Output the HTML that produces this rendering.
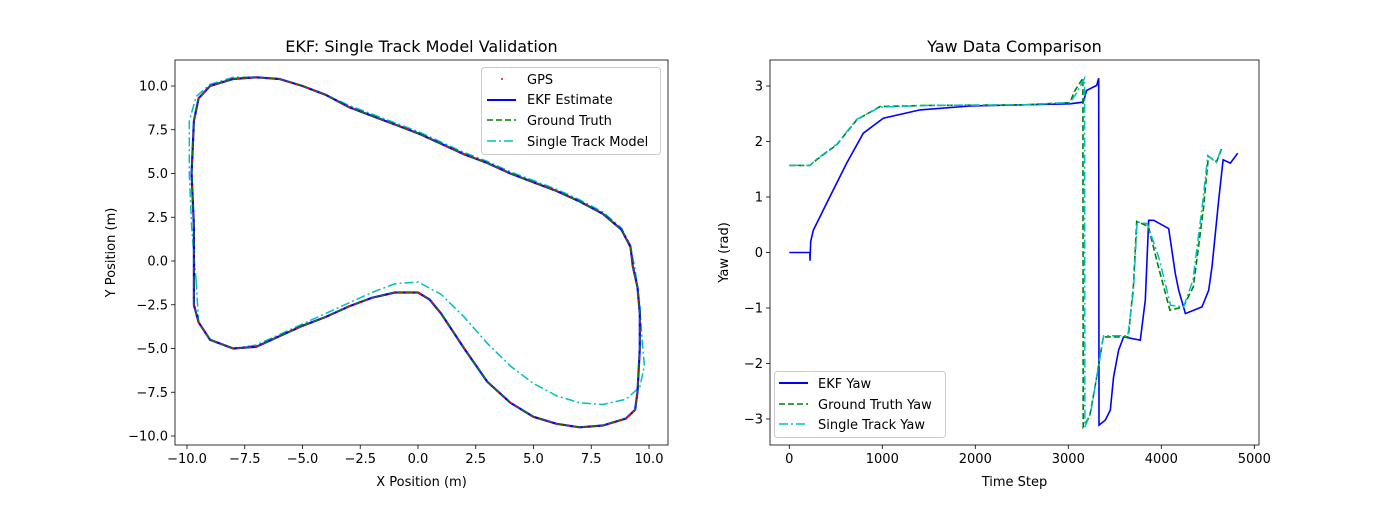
<!DOCTYPE html>
<html><head><meta charset="utf-8"><style>
body{margin:0;background:#fff;font-family:"Liberation Sans","DejaVu Sans",sans-serif}
svg text{font-family:"DejaVu Sans","Liberation Sans",sans-serif;fill:#000}
</style></head><body>
<svg id="chart" width="1400" height="500" xmlns="http://www.w3.org/2000/svg"></svg>
<script>
// ---- Left chart data (track positions, metres)
const gtX=[-9.7,-9.7,-9.8,-9.7,-9.5,-9,-8,-7,-6,-5,-4,-3,-2,-1,0,1,2,3,4,5,6,7,8,8.8,9.2,9.3,9.5,9.6,9.6,9.5,9.4,9,8,7,6,5,4,3,2,1,0.5,0,-1,-2,-3,-4,-5,-6,-7,-8,-9,-9.5,-9.7,-9.7];
const gtY=[-1.2,2,5,8,9.3,10,10.4,10.5,10.4,10,9.5,8.8,8.3,7.8,7.3,6.7,6.1,5.6,5.0,4.5,4.0,3.4,2.7,1.8,0.8,-0.3,-1.5,-3,-5,-7.5,-8.5,-9,-9.4,-9.5,-9.3,-8.9,-8.1,-6.9,-5,-3,-2.2,-1.8,-1.8,-2.1,-2.6,-3.2,-3.7,-4.3,-4.9,-5,-4.5,-3.5,-2.5,-1.2];
const ekfX=gtX.slice(), ekfY=gtY.slice();
const stX=[-9.6,-9.8,-9.9,-9.9,-9.6,-9,-8,-7,-6,-5,-4,-3,-2,-1,0,1,2,3,4,5,6,7,8,8.8,9.2,9.4,9.6,9.7,9.8,9.6,9,8,7,6,5,4,3,2,1,0,-1,-2,-3,-4,-5,-6,-7,-8,-9,-9.5,-9.6];
const stY=[-1.2,2,5,8,9.4,10.1,10.5,10.5,10.4,10,9.5,8.9,8.4,7.9,7.4,6.8,6.2,5.7,5.1,4.6,4.1,3.5,2.8,1.9,0.9,-0.5,-2.5,-4.5,-6,-7.2,-7.9,-8.2,-8.1,-7.7,-7,-6,-4.7,-3.2,-1.9,-1.2,-1.3,-1.8,-2.4,-3.0,-3.6,-4.2,-4.8,-5,-4.5,-3.5,-1.2];
const lxTicks=[-10,-7.5,-5,-2.5,0,2.5,5,7.5,10];
const lyTicks=[-10,-7.5,-5,-2.5,0,2.5,5,7.5,10];
// ---- Right chart data (yaw vs step)
const gtS=[0,222,300,510,725,975,1500,2500,3018,3065,3157,3160,3230,3300,3376,3645,3700,3735,3860,3968,4093,4237,4344,4452,4506,4596,4650];
const gtYaw=[1.57,1.57,1.68,1.94,2.39,2.63,2.65,2.66,2.70,2.90,3.14,-3.14,-2.95,-2.3,-1.52,-1.52,-0.6,0.56,0.47,-0.25,-1.04,-0.98,-0.62,0.77,1.73,1.64,1.88];
const stS=[0,222,300,510,725,975,1500,2500,3018,3080,3175,3178,3240,3310,3380,3640,3700,3740,3850,3975,4100,4240,4340,4445,4500,4590,4640];
const stYaw=[1.57,1.57,1.69,1.95,2.40,2.62,2.65,2.66,2.70,2.85,3.14,-3.14,-2.9,-2.2,-1.50,-1.50,-0.7,0.55,0.52,-0.1,-0.95,-0.98,-0.5,0.9,1.75,1.62,1.85];
const ekfS=[0,222,223,230,258,402,617,796,1011,1405,1943,3018,3161,3197,3305,3327,3330,3398,3452,3487,3541,3595,3774,3828,3864,3918,4080,4151,4187,4259,4438,4510,4545,4617,4664,4743,4821];
const ekfYaw=[0,0,-0.15,0.2,0.4,0.89,1.61,2.15,2.42,2.57,2.64,2.68,2.71,2.92,3.01,3.14,-3.11,-3.02,-2.84,-2.24,-1.76,-1.52,-1.58,-0.86,0.58,0.58,0.43,-0.38,-0.68,-1.1,-0.98,-0.68,-0.26,0.95,1.67,1.61,1.79];
const rxTicks=[0,1000,2000,3000,4000,5000];
const ryTicks=[-3,-2,-1,0,1,2,3];

const svg=document.getElementById('chart');
const NS='http://www.w3.org/2000/svg';
function mk(tag,attrs,parent){const e=document.createElementNS(NS,tag);for(const k in attrs)e.setAttribute(k,attrs[k]);(parent||svg).appendChild(e);return e;}
function txt(s,x,y,anchor,size,parent,rot){const t=mk('text',{x:x,y:y,'text-anchor':anchor,'font-size':size},parent);if(rot)t.setAttribute('transform','rotate(-90 '+x+' '+y+')');t.textContent=s;return t;}

// axes functions
const L={x0:175,x1:668,y0:60,y1:445};
const lx=v=>187+(v+10)*23.1, ly=v=>261+(-v)*17.5;
const R={x0:770,x1:1259,y0:60,y1:445};
const rx=v=>789.3+v*0.093, ry=v=>252.5-v*55.5;

function pathD(xs,ys,fx,fy,close){let d='';for(let i=0;i<xs.length;i++)d+=(i?'L':'M')+fx(xs[i]).toFixed(1)+' '+fy(ys[i]).toFixed(1);return d+(close?'Z':'');}

function axes(A,xt,yt,fx,fy,fmt,name){
  const g=mk('g',{});
  
  
  xt.forEach(v=>{const x=fx(v);mk('line',{x1:x,x2:x,y1:A.y1,y2:A.y1+4,stroke:'#000','stroke-width':0.8},g);const t=txt(fmt(v),x,A.y1+18,'middle',13,g);});
  yt.forEach(v=>{const y=fy(v);mk('line',{x1:A.x0-4,x2:A.x0,y1:y,y2:y,stroke:'#000','stroke-width':0.8},g);const t=txt(fmt(v),A.x0-7,y+4.5,'end',13,g);});
  return g;
}
const fmtL=v=>(v<0?'\u2212':'')+Math.abs(v).toFixed(1);
const fmtR=v=>(v<0?'\u2212':'')+Math.abs(v);

// clip paths
const defs=mk('defs',{});
const c1=mk('clipPath',{id:'cl'},defs);mk('rect',{x:L.x0,y:L.y0,width:L.x1-L.x0,height:L.y1-L.y0},c1);
const c2=mk('clipPath',{id:'cr'},defs);mk('rect',{x:R.x0,y:R.y0,width:R.x1-R.x0,height:R.y1-R.y0},c2);

// ---- Left chart
axes(L,lxTicks,lyTicks,lx,ly,fmtL,'left');
const gl=mk('g',{'clip-path':'url(#cl)'});


let p=mk('path',{d:pathD(stX,stY,lx,ly,true),fill:'none',stroke:'#00bfbf','stroke-width':1.5,'stroke-dasharray':'9,3,2,3'},gl);

p=mk('path',{d:pathD(ekfX,ekfY,lx,ly,true),fill:'none',stroke:'#0000ff','stroke-width':2.2},gl);

p=mk('path',{d:pathD(gtX,gtY,lx,ly,true),fill:'none',stroke:'#008000','stroke-width':1.5,'stroke-dasharray':'6,3'},gl);

for(let i=0;i<gtX.length-1;i++){for(let k=0;k<4;k++){const t=k/4;const c=mk('circle',{cx:lx(gtX[i]+(gtX[i+1]-gtX[i])*t),cy:ly(gtY[i]+(gtY[i+1]-gtY[i])*t),r:0.9,fill:'#ff0000'},gl);

}}
mk('rect',{x:L.x0,y:L.y0,width:L.x1-L.x0,height:L.y1-L.y0,fill:'none',stroke:'#000','stroke-width':0.8});
let t=txt('EKF: Single Track Model Validation',421.5,52,'middle',16);
t=txt('X Position (m)',421.5,486,'middle',13);
t=txt('Y Position (m)',115,252.5,'middle',13,null,true);
// left legend
const lg=mk('g',{});
mk('rect',{x:481.5,y:67.5,width:179,height:87,rx:3,fill:'#fff',stroke:'#ccc','stroke-width':1},lg);
mk('circle',{cx:502,cy:79,r:1,fill:'#ff0000'},lg);txt('GPS',527,84,'start',13,lg);
mk('line',{x1:487,x2:516,y1:100,y2:100,stroke:'#0000ff','stroke-width':2},lg);txt('EKF Estimate',527,104,'start',13,lg);
mk('line',{x1:487,x2:516,y1:120,y2:120,stroke:'#008000','stroke-width':1.5,'stroke-dasharray':'6,3'},lg);txt('Ground Truth',527,125,'start',13,lg);
mk('line',{x1:487,x2:516,y1:141,y2:141,stroke:'#00bfbf','stroke-width':1.5,'stroke-dasharray':'9,3,2,3'},lg);txt('Single Track Model',527,146,'start',13,lg);

// ---- Right chart
axes(R,rxTicks,ryTicks,rx,ry,fmtR,'right');
const gr=mk('g',{'clip-path':'url(#cr)'});


p=mk('path',{d:pathD(ekfS,ekfYaw,rx,ry),fill:'none',stroke:'#0000ff','stroke-width':1.6},gr);

p=mk('path',{d:pathD(gtS,gtYaw,rx,ry),fill:'none',stroke:'#008000','stroke-width':1.6,'stroke-dasharray':'6,3'},gr);

p=mk('path',{d:pathD(stS,stYaw,rx,ry),fill:'none',stroke:'#00bfbf','stroke-width':1.5,'stroke-dasharray':'9,3,2,3'},gr);

mk('rect',{x:R.x0,y:R.y0,width:R.x1-R.x0,height:R.y1-R.y0,fill:'none',stroke:'#000','stroke-width':0.8});
t=txt('Yaw Data Comparison',1014.5,52,'middle',16);
t=txt('Time Step',1014.5,486,'middle',13);
t=txt('Yaw (rad)',728,252.5,'middle',13,null,true);
const rg=mk('g',{});
mk('rect',{x:774.5,y:371.5,width:171,height:66,rx:3,fill:'#fff',stroke:'#ccc','stroke-width':1},rg);
mk('line',{x1:779,x2:808,y1:383,y2:383,stroke:'#0000ff','stroke-width':2},rg);txt('EKF Yaw',818,388,'start',13,rg);
mk('line',{x1:779,x2:808,y1:404,y2:404,stroke:'#008000','stroke-width':1.5,'stroke-dasharray':'6,3'},rg);txt('Ground Truth Yaw',818,409,'start',13,rg);
mk('line',{x1:779,x2:808,y1:424,y2:424,stroke:'#00bfbf','stroke-width':1.5,'stroke-dasharray':'9,3,2,3'},rg);txt('Single Track Yaw',818,429,'start',13,rg);
</script>
</body></html>
